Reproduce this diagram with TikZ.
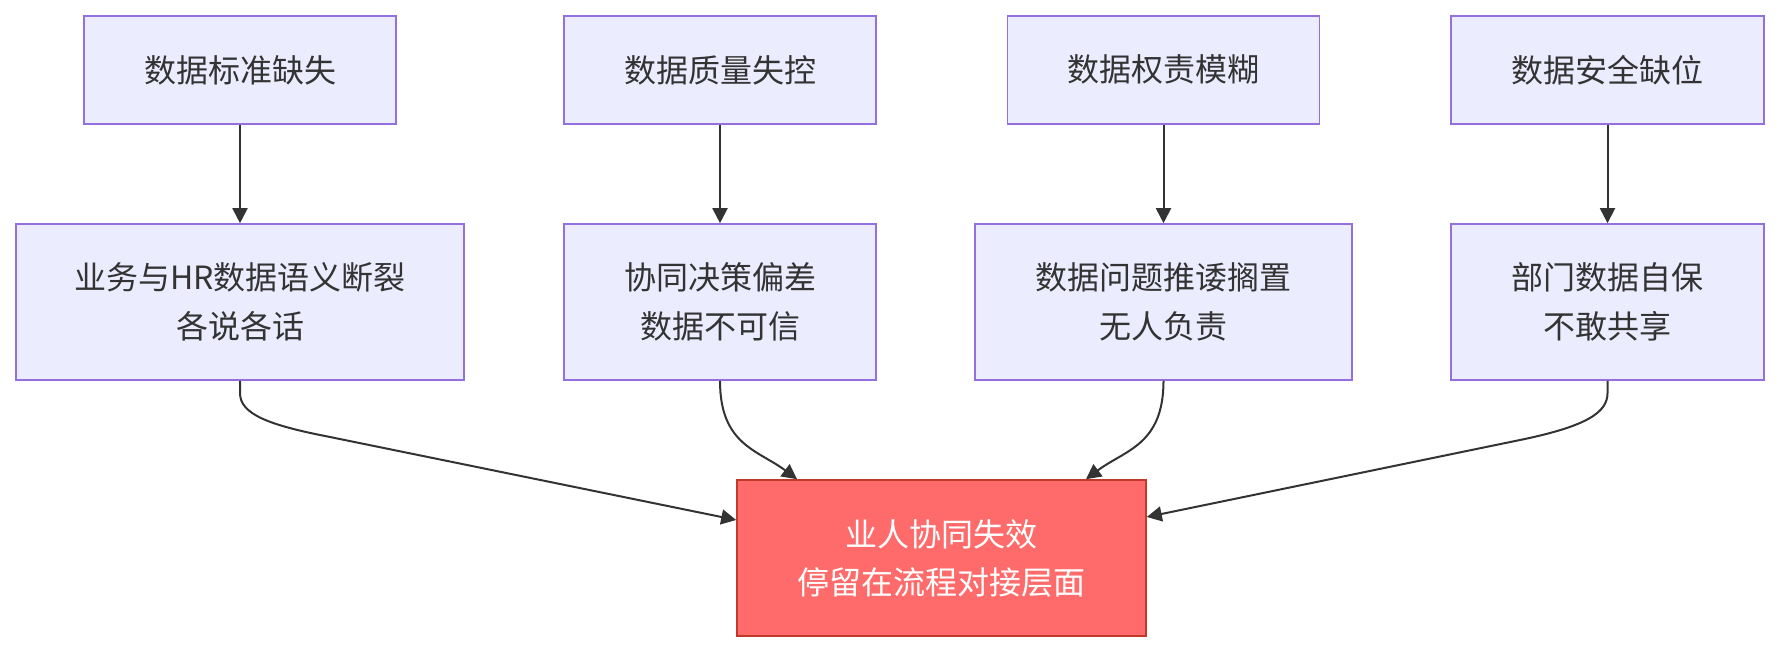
\documentclass[tikz,border=0pt]{standalone}
\usepackage{fontspec}
\setmainfont{Noto Sans CJK SC}
\usetikzlibrary{arrows.meta,calc}
\definecolor{boxfill}{HTML}{ECECFF}
\definecolor{boxline}{HTML}{9370DB}
\definecolor{redfill}{HTML}{FF6B6B}
\definecolor{redline}{HTML}{C0392B}
\definecolor{ink}{HTML}{333333}
\tikzset{
  pbox/.style={draw=boxline, fill=boxfill, line width=1.6pt, inner sep=0pt, align=center,
    text=ink, font=\fontsize{32}{49}\selectfont},
  rbox/.style={draw=redline, fill=redfill, line width=1.6pt, inner sep=0pt, align=center,
    text=white, font=\fontsize{32}{48}\selectfont},
  conn/.style={draw=ink, line width=2pt, -{Triangle[length=15pt,width=15pt]}},
}
\begin{document}
\begin{tikzpicture}[x=1pt,y=-1pt]
\useasboundingbox (0,0) rectangle (1779,652);
% top row
\node[pbox, minimum width=312pt, minimum height=108pt] (t1) at (240,70) {数据标准缺失};
\node[pbox, minimum width=312pt, minimum height=108pt] (t2) at (720,70) {数据质量失控};
\node[pbox, minimum width=312pt, minimum height=108pt] (t3) at (1163.5,70) {数据权责模糊};
\node[pbox, minimum width=313pt, minimum height=108pt] (t4) at (1607.5,70) {数据安全缺位};
% middle row
\node[pbox, minimum width=448pt, minimum height=156pt] (m1) at (240,302) {业务与HR数据语义断裂\\各说各话};
\node[pbox, minimum width=312pt, minimum height=156pt] (m2) at (720,302) {协同决策偏差\\数据不可信};
\node[pbox, minimum width=377pt, minimum height=156pt] (m3) at (1163.5,302) {数据问题推诿搁置\\无人负责};
\node[pbox, minimum width=313pt, minimum height=156pt] (m4) at (1607.5,302) {部门数据自保\\不敢共享};
% bottom
\node[rbox, minimum width=409pt, minimum height=156pt] (b) at (941.5,558) {业人协同失效\\停留在流程对接层面};
% straight connectors
\draw[conn] (t1.south) -- (m1.north);
\draw[conn] (t2.south) -- (m2.north);
\draw[conn] (t3.south) -- (m3.north);
\draw[conn] (t4.south) -- (m4.north);
% curved connectors
\draw[conn] (m1.south) -- (240,393) .. controls (240,414) and (268,425) .. (330,437) -- ($(b.west)+(0,-38)$);
\draw[conn] (m2.south) .. controls (720,445) and (758,450) .. ($(b.north)+(-144.5,0)$);
\draw[conn] (m3.south) .. controls (1163.5,445) and (1125,450) .. ($(b.north)+(144.5,0)$);
\draw[conn] (m4.south) -- (1607.5,393) .. controls (1607.5,412) and (1588,426) .. (1520,440) -- ($(b.east)+(0,-41)$);
\end{tikzpicture}
\end{document}
